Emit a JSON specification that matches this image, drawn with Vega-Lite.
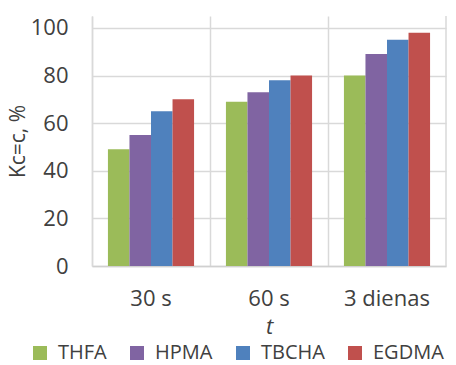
{
  "$schema": "https://vega.github.io/schema/vega-lite/v6.json",
  "width": 354,
  "height": 250,
  "autosize": {"type": "none"},
  "padding": {"left": 92, "top": 16, "right": 10, "bottom": 99},
  "background": "white",
  "config": {
    "font": "Open Sans",
    "view": {"stroke": null},
    "axis": {"labelFont": "Open Sans", "titleFont": "Open Sans", "labelColor": "#404040", "titleColor": "#404040", "labelFontSize": 22, "titleFontSize": 21, "titleFontWeight": "normal", "gridColor": "#d9d9d9", "gridWidth": 1.5, "domainColor": "#d9d9d9", "domainWidth": 1.5, "ticks": false}
  },
  "datasets": {
    "bars": [
      {"t": "30 s", "series": "THFA", "value": 49},
      {"t": "30 s", "series": "HPMA", "value": 55},
      {"t": "30 s", "series": "TBCHA", "value": 65},
      {"t": "30 s", "series": "EGDMA", "value": 70},
      {"t": "60 s", "series": "THFA", "value": 69},
      {"t": "60 s", "series": "HPMA", "value": 73},
      {"t": "60 s", "series": "TBCHA", "value": 78},
      {"t": "60 s", "series": "EGDMA", "value": 80},
      {"t": "3 dienas", "series": "THFA", "value": 80},
      {"t": "3 dienas", "series": "HPMA", "value": 89},
      {"t": "3 dienas", "series": "TBCHA", "value": 95},
      {"t": "3 dienas", "series": "EGDMA", "value": 98}
    ],
    "edge": [{"t": "3 dienas"}]
  },
  "layer": [
    {
      "data": {"name": "bars"},
      "mark": {"type": "bar"},
      "encoding": {
        "x": {
          "field": "t", "type": "nominal",
          "scale": {"domain": ["30 s", "60 s", "3 dienas"], "paddingInner": 0, "paddingOuter": 0},
          "axis": {"title": "t", "titleFontStyle": "italic", "titleFontSize": 22, "labelAngle": 0, "labelPadding": 22, "titlePadding": 7, "grid": true, "bandPosition": 0, "domainColor": "#d0d0d0"}
        },
        "xOffset": {
          "field": "series", "type": "nominal",
          "scale": {"domain": ["THFA", "HPMA", "TBCHA", "EGDMA"], "paddingInner": 0, "paddingOuter": 0.74}
        },
        "y": {
          "field": "value", "type": "quantitative",
          "scale": {"domain": [0, 105], "nice": false},
          "axis": {"title": "Kc=c, %", "values": [0, 20, 40, 60, 80, 100], "labelPadding": 24, "titlePadding": 2, "grid": true}
        },
        "color": {
          "field": "series", "type": "nominal",
          "scale": {"domain": ["THFA", "HPMA", "TBCHA", "EGDMA"], "range": ["#9BBB59", "#8064A2", "#4F81BD", "#C0504D"]},
          "legend": {"title": null, "orient": "none", "direction": "horizontal", "legendX": -62, "legendY": 327, "symbolType": "square", "symbolSize": 196, "symbolStrokeWidth": 0, "labelFontSize": 20, "labelFont": "Open Sans", "labelColor": "#404040", "labelOffset": 8, "columnPadding": 20}
        }
      }
    },
    {
      "data": {"name": "edge"},
      "mark": {"type": "rule", "color": "#d9d9d9", "strokeWidth": 1.5},
      "encoding": {
        "x": {"field": "t", "type": "nominal", "bandPosition": 1}
      }
    }
  ]
}
